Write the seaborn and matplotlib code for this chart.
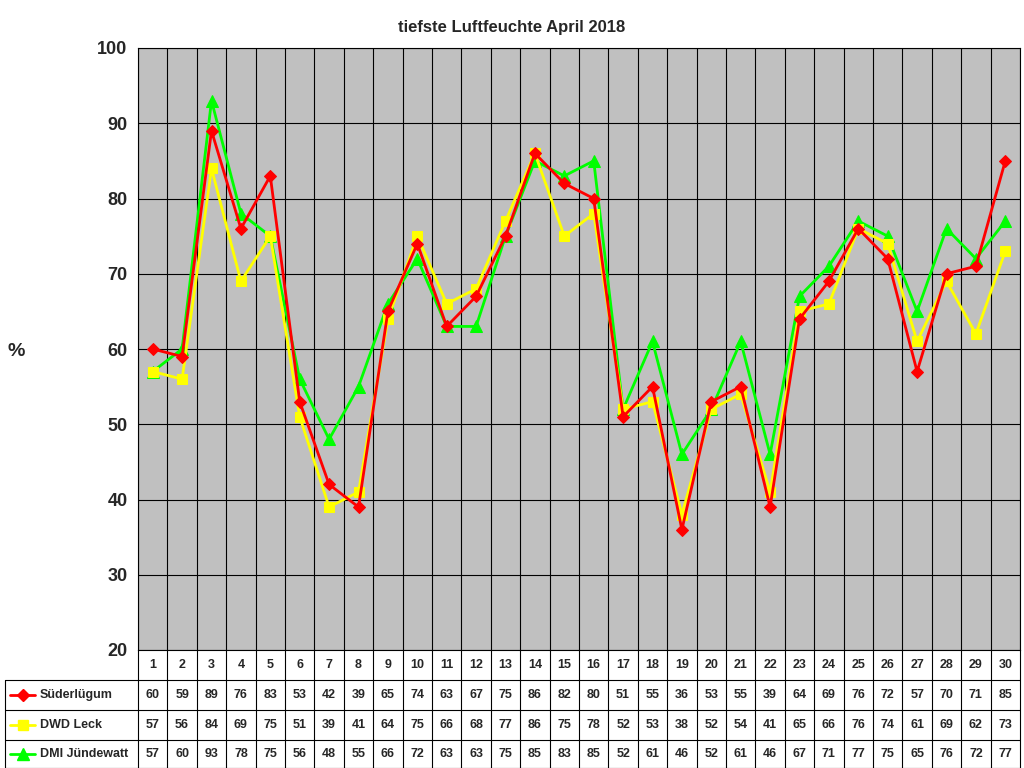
import numpy as np
import pandas as pd
import matplotlib
matplotlib.use("Agg")
import matplotlib.pyplot as plt
import seaborn as sns
from matplotlib.lines import Line2D

days = list(range(1, 31))
suederluegum = [60, 59, 89, 76, 83, 53, 42, 39, 65, 74, 63, 67, 75, 86, 82, 80, 51, 55, 36, 53, 55, 39, 64, 69, 76, 72, 57, 70, 71, 85]
dwd_leck = [57, 56, 84, 69, 75, 51, 39, 41, 64, 75, 66, 68, 77, 86, 75, 78, 52, 53, 38, 52, 54, 41, 65, 66, 76, 74, 61, 69, 62, 73]
dmi_juendewatt = [57, 60, 93, 78, 75, 56, 48, 55, 66, 72, 63, 63, 75, 85, 83, 85, 52, 61, 46, 52, 61, 46, 67, 71, 77, 75, 65, 76, 72, 77]

series = [
    ("Süderlügum", suederluegum, "#ff0000", "D", 6),
    ("DWD Leck", dwd_leck, "#ffff00", "s", 7),
    ("DMI Jündewatt", dmi_juendewatt, "#00ff00", "^", 8),
]

sns.set_style("white")
plt.rcParams["font.family"] = ["Liberation Sans", "DejaVu Sans"]

fig = plt.figure(figsize=(10.24, 7.68), dpi=100)
L, R, T, B = 138, 1020, 48, 650
ax = fig.add_axes([L / 1024, 1 - B / 768, (R - L) / 1024, (B - T) / 768])
ax.set_facecolor("#c0c0c0")

x = np.arange(len(days)) + 0.5
for name, vals, col, mk, ms in [series[2], series[1], series[0]]:
    df = pd.DataFrame({"x": x, "y": vals})
    sns.lineplot(data=df, x="x", y="y", ax=ax, color=col, marker=mk, markersize=ms,
                 markeredgecolor=col, linewidth=2, zorder=3)

ax.set_xlim(0, 30)
ax.set_ylim(20, 100)
ax.set_yticks(range(20, 101, 10))
ax.set_yticklabels([str(v) for v in range(20, 101, 10)], fontsize=13, fontweight="bold")
ax.set_xticks(range(0, 31))
ax.set_xticklabels([])
ax.tick_params(axis="x", length=0)
ax.tick_params(axis="y", length=4)
ax.grid(True, color="black", linewidth=0.8)
ax.set_axisbelow(True)
for s in ax.spines.values():
    s.set_color("black")
ax.set_xlabel("")
ax.set_ylabel("")
fig.text(16 / 1024, 1 - 352 / 768, "%", fontsize=14, fontweight="bold", ha="center", va="center")
fig.suptitle("tiefste Luftfeuchte April 2018", y=1 - 20 / 768, fontsize=12, fontweight="bold")

# table below the plot
def fx(px):
    return px / 1024

def fy(py):
    return 1 - py / 768

rows_y = [650, 680, 710, 740, 768]
col_w = (R - L) / 30
for yy in rows_y[1:]:
    fig.add_artist(Line2D([fx(5), fx(R)], [fy(yy), fy(yy)], color="black", lw=0.8))
fig.add_artist(Line2D([fx(5), fx(5)], [fy(680), fy(768)], color="black", lw=0.8))
for i in range(31):
    xp = L + i * col_w
    fig.add_artist(Line2D([fx(xp), fx(xp)], [fy(650), fy(768)], color="black", lw=0.8))
for i, d in enumerate(days):
    fig.text(fx(L + (i + 0.5) * col_w), fy(665), str(d), fontsize=9, fontweight="bold", ha="center", va="center")
for r, (name, vals, col, mk, ms) in enumerate(series):
    yc = (rows_y[r + 1] + rows_y[r + 2]) / 2
    fig.add_artist(Line2D([fx(10), fx(22.5), fx(35)], [fy(yc)] * 3, color=col, lw=2, marker=mk,
                          markersize=ms, markevery=[1], markeredgecolor=col))
    fig.text(fx(40), fy(yc), name, fontsize=9, fontweight="bold", ha="left", va="center")
    for i, v in enumerate(vals):
        fig.text(fx(L + (i + 0.5) * col_w), fy(yc), str(v), fontsize=9, fontweight="bold", ha="center", va="center")

fig.savefig("out.png", dpi=100, facecolor="white")
